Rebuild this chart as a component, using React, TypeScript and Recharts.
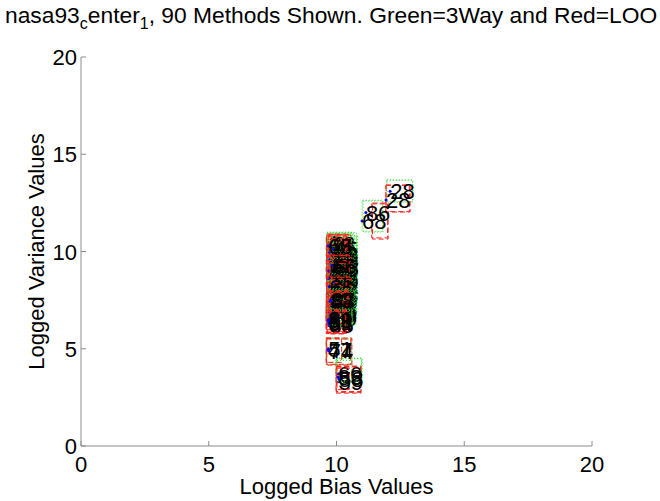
import React from "react";
import { ScatterChart, Scatter, XAxis, YAxis, ReferenceArea } from "recharts";

// Each row: [label, bias, variance,
//   LOO bias lo, LOO bias hi, LOO var lo, LOO var hi,
//   3Way bias lo, 3Way bias hi, 3Way var lo, 3Way var hi]
type MethodRow = [string, number, number, number, number, number, number, number, number, number, number];

const topMethods: MethodRow[] = [
  ["28", 12.1, 13.1, 11.94, 12.88, 12.03, 13.42, 11.98, 12.99, 12.54, 13.68],
  ["28", 11.94, 12.65, 11.93, 12.85, 12.05, 13.4, 11.96, 12.97, 12.56, 13.66],
  ["86", 11.15, 12.0, 11.41, 12.02, 10.64, 12.49, 11.04, 11.82, 11.0, 12.64],
  ["68", 11.0, 11.57, 11.38, 12.0, 10.7, 12.45, 11.0, 11.8, 11.04, 12.6],
];

const upperCluster: MethodRow[] = [
  ["1", 9.68, 10.45, 9.61, 10.36, 9.85, 10.9, 9.64, 10.58, 10.05, 11.0],
  ["2", 9.86, 10.4, 9.79, 10.55, 9.8, 10.85, 9.82, 10.78, 10.0, 10.95],
  ["3", 9.74, 10.32, 9.67, 10.42, 9.72, 10.8, 9.7, 10.64, 9.9, 10.9],
  ["4", 9.92, 10.24, 9.85, 10.6, 9.64, 10.7, 9.88, 10.82, 9.84, 10.8],
  ["5", 9.7, 10.16, 9.63, 10.38, 9.56, 10.62, 9.66, 10.6, 9.76, 10.72],
  ["6", 9.82, 10.08, 9.75, 10.5, 9.48, 10.54, 9.78, 10.72, 9.68, 10.64],
  ["7", 9.68, 10.0, 9.61, 10.36, 9.4, 10.46, 9.64, 10.58, 9.6, 10.56],
  ["8", 9.9, 9.94, 9.83, 10.58, 9.34, 10.4, 9.86, 10.8, 9.54, 10.5],
  ["9", 9.76, 9.86, 9.69, 10.44, 9.26, 10.32, 9.72, 10.66, 9.46, 10.42],
  ["10", 9.86, 9.78, 9.79, 10.54, 9.18, 10.24, 9.82, 10.76, 9.38, 10.34],
  ["11", 9.68, 9.7, 9.61, 10.36, 9.1, 10.16, 9.64, 10.58, 9.3, 10.26],
  ["12", 9.8, 9.64, 9.73, 10.48, 9.04, 10.1, 9.76, 10.7, 9.24, 10.2],
  ["13", 9.92, 9.56, 9.85, 10.6, 8.96, 10.02, 9.88, 10.82, 9.16, 10.12],
  ["14", 9.7, 9.48, 9.63, 10.38, 8.88, 9.94, 9.66, 10.6, 9.08, 10.04],
  ["15", 9.84, 9.4, 9.77, 10.52, 8.8, 9.86, 9.8, 10.74, 9.0, 9.96],
  ["16", 9.68, 9.32, 9.6, 10.34, 8.7, 9.8, 9.65, 10.56, 8.94, 9.9],
  ["17", 9.9, 9.26, 9.84, 10.56, 8.66, 9.72, 9.86, 10.8, 8.86, 9.82],
  ["18", 9.76, 9.18, 9.7, 10.46, 8.58, 9.64, 9.72, 10.68, 8.78, 9.74],
  ["19", 9.68, 9.1, 9.62, 10.36, 8.5, 9.58, 9.64, 10.58, 8.7, 9.66],
  ["20", 9.88, 9.04, 9.8, 10.56, 8.44, 9.5, 9.84, 10.78, 8.64, 9.6],
  ["21", 9.72, 8.96, 9.65, 10.4, 8.36, 9.42, 9.68, 10.62, 8.56, 9.52],
  ["22", 9.82, 8.88, 9.75, 10.5, 8.28, 9.34, 9.78, 10.72, 8.48, 9.44],
  ["23", 9.68, 8.8, 9.61, 10.36, 8.2, 9.26, 9.64, 10.58, 8.4, 9.36],
  ["24", 9.9, 8.74, 9.83, 10.58, 8.14, 9.2, 9.86, 10.8, 8.34, 9.3],
  ["25", 9.75, 8.66, 9.68, 10.43, 8.06, 9.12, 9.71, 10.65, 8.26, 9.22],
  ["26", 9.68, 8.58, 9.61, 10.36, 7.98, 9.04, 9.64, 10.58, 8.18, 9.14],
  ["27", 9.86, 8.52, 9.79, 10.54, 7.92, 8.98, 9.82, 10.76, 8.12, 9.08],
  ["29", 9.7, 8.44, 9.63, 10.38, 7.84, 8.9, 9.66, 10.6, 8.04, 9.0],
  ["30", 9.8, 8.36, 9.73, 10.48, 7.76, 8.82, 9.76, 10.7, 7.96, 8.92],
  ["31", 9.68, 8.28, 9.61, 10.36, 7.68, 8.74, 9.64, 10.58, 7.88, 8.84],
  ["32", 9.92, 8.22, 9.85, 10.6, 7.62, 8.68, 9.88, 10.82, 7.82, 8.78],
  ["33", 9.74, 8.14, 9.67, 10.42, 7.54, 8.6, 9.7, 10.64, 7.74, 8.7],
  ["34", 9.86, 8.06, 9.79, 10.54, 7.46, 8.52, 9.82, 10.76, 7.66, 8.62],
  ["35", 9.68, 7.98, 9.61, 10.36, 7.38, 8.44, 9.64, 10.58, 7.58, 8.54],
  ["36", 9.8, 7.9, 9.73, 10.48, 7.3, 8.36, 9.76, 10.7, 7.5, 8.46],
  ["37", 9.7, 7.82, 9.63, 10.38, 7.22, 8.28, 9.66, 10.6, 7.42, 8.38],
  ["38", 9.9, 7.76, 9.83, 10.58, 7.16, 8.22, 9.86, 10.8, 7.36, 8.32],
  ["40", 9.68, 7.68, 9.61, 10.36, 7.08, 8.14, 9.64, 10.58, 7.28, 8.24],
  ["41", 9.84, 7.6, 9.77, 10.52, 7.0, 8.06, 9.8, 10.74, 7.2, 8.16],
  ["42", 9.72, 7.52, 9.65, 10.4, 6.92, 7.98, 9.68, 10.62, 7.12, 8.08],
];

const upperFill: MethodRow[] = [
  ["43", 9.78, 10.38, 9.7, 10.46, 9.9, 10.88, 9.74, 10.7, 10.1, 10.98],
  ["44", 9.7, 10.22, 9.62, 10.4, 9.7, 10.76, 9.66, 10.62, 9.86, 10.86],
  ["45", 9.88, 10.12, 9.8, 10.56, 9.52, 10.66, 9.84, 10.78, 9.72, 10.76],
  ["46", 9.74, 9.96, 9.66, 10.42, 9.38, 10.5, 9.7, 10.64, 9.58, 10.6],
  ["48", 9.9, 9.82, 9.82, 10.58, 9.22, 10.36, 9.86, 10.8, 9.42, 10.46],
  ["49", 9.7, 9.6, 9.62, 10.38, 9.0, 10.14, 9.66, 10.6, 9.2, 10.24],
  ["50", 9.84, 9.52, 9.76, 10.52, 8.92, 10.06, 9.8, 10.74, 9.12, 10.16],
  ["52", 9.76, 9.36, 9.68, 10.44, 8.76, 9.9, 9.72, 10.66, 8.96, 10.0],
  ["53", 9.92, 9.14, 9.84, 10.6, 8.54, 9.68, 9.88, 10.82, 8.74, 9.78],
  ["54", 9.7, 9.0, 9.62, 10.38, 8.4, 9.54, 9.66, 10.6, 8.6, 9.64],
  ["55", 9.86, 8.84, 9.78, 10.54, 8.24, 9.38, 9.82, 10.76, 8.44, 9.48],
  ["56", 9.76, 8.7, 9.68, 10.44, 8.1, 9.24, 9.72, 10.66, 8.3, 9.34],
  ["57", 9.68, 8.62, 9.6, 10.36, 8.02, 9.16, 9.64, 10.58, 8.22, 9.26],
  ["59", 9.9, 8.4, 9.82, 10.58, 7.8, 8.94, 9.86, 10.8, 8.0, 9.04],
  ["61", 9.72, 8.2, 9.64, 10.4, 7.6, 8.74, 9.68, 10.62, 7.8, 8.84],
  ["62", 9.84, 8.02, 9.76, 10.52, 7.42, 8.56, 9.8, 10.74, 7.62, 8.66],
  ["63", 9.7, 7.86, 9.62, 10.38, 7.26, 8.4, 9.66, 10.6, 7.46, 8.5],
  ["64", 9.8, 7.7, 9.72, 10.48, 7.1, 8.24, 9.76, 10.7, 7.3, 8.34],
  ["65", 9.68, 10.3, 9.6, 10.36, 9.8, 10.84, 9.64, 10.58, 10.0, 10.94],
  ["66", 9.82, 9.28, 9.74, 10.5, 8.68, 9.82, 9.78, 10.72, 8.88, 9.92],
];

const middleCluster: MethodRow[] = [
  ["67", 9.68, 7.4, 9.6, 10.36, 6.7, 7.9, 9.64, 10.62, 6.9, 8.0],
  ["69", 9.86, 7.36, 9.78, 10.56, 6.66, 7.86, 9.82, 10.8, 6.86, 7.96],
  ["70", 9.8, 7.28, 9.72, 10.48, 6.58, 7.78, 9.76, 10.72, 6.78, 7.88],
  ["71", 9.74, 7.22, 9.66, 10.42, 6.6, 7.7, 9.7, 10.64, 6.74, 7.84],
  ["72", 9.68, 7.14, 9.6, 10.36, 6.44, 7.64, 9.64, 10.6, 6.64, 7.74],
  ["73", 9.86, 7.06, 9.78, 10.56, 6.36, 7.56, 9.82, 10.78, 6.56, 7.66],
  ["75", 9.72, 6.98, 9.64, 10.4, 6.28, 7.48, 9.68, 10.64, 6.48, 7.58],
  ["76", 9.82, 6.92, 9.74, 10.5, 6.3, 7.4, 9.78, 10.74, 6.44, 7.54],
  ["77", 9.68, 6.84, 9.6, 10.36, 6.14, 7.34, 9.64, 10.6, 6.34, 7.44],
  ["78", 9.8, 6.76, 9.72, 10.48, 6.06, 7.26, 9.76, 10.72, 6.26, 7.36],
  ["79", 9.7, 6.68, 9.62, 10.38, 5.98, 7.18, 9.66, 10.62, 6.18, 7.28],
  ["80", 9.84, 6.6, 9.76, 10.52, 5.9, 7.1, 9.8, 10.76, 6.22, 7.2],
  ["81", 9.68, 6.52, 9.6, 10.36, 5.86, 7.02, 9.64, 10.6, 6.22, 7.12],
  ["82", 9.7, 6.4, 9.62, 10.4, 5.8, 6.9, 9.66, 10.62, 6.22, 7.0],
  ["84", 9.68, 6.3, 9.6, 10.36, 5.78, 6.8, 9.64, 10.58, 6.22, 6.9],
  ["85", 9.72, 6.2, 9.64, 10.38, 5.76, 6.7, 9.68, 10.6, 6.22, 6.8],
  ["87", 9.78, 7.5, 9.7, 10.46, 6.9, 7.98, 9.74, 10.7, 7.04, 8.1],
  ["88", 9.76, 7.44, 9.68, 10.44, 6.82, 7.94, 9.72, 10.66, 6.98, 8.04],
  ["89", 9.68, 6.46, 9.6, 10.36, 5.84, 6.96, 9.64, 10.6, 6.22, 7.06],
];

const lowerMethods: MethodRow[] = [
  ["47", 9.67, 4.94, 9.6, 10.6, 4.16, 5.55, 9.6, 10.6, 4.16, 5.55],
  ["74", 9.7, 4.88, 9.62, 10.56, 4.2, 5.5, 9.62, 10.56, 4.2, 5.5],
  ["51", 9.68, 5.0, 9.6, 10.2, 4.3, 5.55, 9.6, 10.2, 4.3, 5.55],
];

const bottomMethods: MethodRow[] = [
  ["60", 10.06, 3.72, 9.98, 10.96, 2.72, 4.11, 9.98, 11.0, 3.24, 4.52],
  ["39", 10.08, 3.3, 10.0, 10.94, 2.76, 4.06, 10.0, 10.98, 3.28, 4.48],
  ["83", 10.06, 3.55, 9.99, 10.95, 2.8, 4.08, 9.99, 10.99, 3.3, 4.5],
  ["58", 10.1, 3.45, 10.02, 10.5, 2.9, 4.0, 10.02, 10.6, 3.35, 4.4],
];

const axisTicks = [0, 5, 10, 15, 20];

const allRows = [...upperCluster, ...upperFill, ...middleCluster, ...lowerMethods, ...bottomMethods, ...topMethods];

// methods are drawn in small batches (boxes, then labels) so that
// later boxes sit on top of earlier labels
const BATCH = 6;
const batches: MethodRow[][] = [];
for (let i = 0; i < allRows.length; i += BATCH) batches.push(allRows.slice(i, i + BATCH));

const FONT = '"Liberation Sans", Arial, Helvetica, sans-serif';
const AXIS_GRAY = "#8c8c8c";

const XTick = ({ x, y, payload }: any) => (
  <g>
    <line x1={x} y1={y} x2={x} y2={y - 5} stroke={AXIS_GRAY} />
    <text x={x} y={y + 26} textAnchor="middle" fontSize={22} fontFamily={FONT} fill="#000">
      {payload.value}
    </text>
  </g>
);

const YTick = ({ x, y, payload }: any) => (
  <g>
    <line x1={x} y1={y} x2={x + 5} y2={y} stroke={AXIS_GRAY} />
    <text x={x - 4} y={y + 8} textAnchor="end" fontSize={22} fontFamily={FONT} fill="#000">
      {payload.value}
    </text>
  </g>
);

// method number written to the right of its point, with the point as a small blue dot
const MethodMark = (props: any) => {
  const { cx, cy, payload } = props;
  return (
    <g>
      <circle cx={cx} cy={cy} r={1.5} fill="#0000ff" />
      <text x={cx} y={cy + 8} fontSize={22} fontFamily={FONT} fill="#000">
        {payload.label}
      </text>
    </g>
  );
};

export default function App() {
  return (
    <div style={{ position: "absolute", left: 0, top: 0, width: 660, height: 501, background: "#fff" }}>
      <div
        style={{
          position: "absolute",
          left: 5,
          top: 2,
          fontFamily: FONT,
          fontSize: 22.8,
          whiteSpace: "nowrap",
          color: "#000",
          lineHeight: "27px",
        }}
      >
        nasa93<sub style={{ fontSize: 16, verticalAlign: "-6px" }}>c</sub>enter
        <sub style={{ fontSize: 16, verticalAlign: "-6px" }}>1</sub>, 90 Methods Shown. Green=3Way and Red=LOO
      </div>
      <ScatterChart width={660} height={501} margin={{ top: 57, right: 68, bottom: 0, left: 0 }}>
        <XAxis
          type="number"
          dataKey="bias"
          domain={[0, 20]}
          ticks={axisTicks}
          interval={0}
          allowDataOverflow
          height={55}
          tickSize={0}
          tickMargin={0}
          tickLine={false}
          stroke={AXIS_GRAY}
          tick={<XTick />}
          label={{
            value: "Logged Bias Values",
            position: "insideBottom",
            offset: 7,
            fontSize: 22,
            fontFamily: FONT,
            fill: "#000",
          }}
        />
        <YAxis
          type="number"
          dataKey="variance"
          domain={[0, 20]}
          ticks={axisTicks}
          interval={0}
          allowDataOverflow
          width={81}
          tickSize={0}
          tickMargin={0}
          tickLine={false}
          stroke={AXIS_GRAY}
          tick={<YTick />}
          label={{
            value: "Logged Variance Values",
            angle: -90,
            position: "insideLeft",
            offset: 36,
            fontSize: 22,
            fontFamily: FONT,
            fill: "#000",
            style: { textAnchor: "middle" },
          }}
        />
        {batches.map((rows, b) => [
          ...rows.map((r, i) => (
            <ReferenceArea
              key={`way-${b}-${i}`}
              x1={r[7]}
              x2={r[8]}
              y1={r[9]}
              y2={r[10]}
              fill="none"
              stroke="#33dd33"
              strokeDasharray="1 2"
              ifOverflow="visible"
              zIndex={600 + b * 3}
            />
          )),
          ...rows.map((r, i) => (
            <ReferenceArea
              key={`loo-${b}-${i}`}
              x1={r[3]}
              x2={r[4]}
              y1={r[5]}
              y2={r[6]}
              fill="none"
              stroke="#ff2020"
              strokeDasharray="5 3"
              ifOverflow="visible"
              zIndex={601 + b * 3}
            />
          )),
          <Scatter
            key={`pts-${b}`}
            data={rows.map((r) => ({ label: r[0], bias: r[1], variance: r[2] }))}
            shape={<MethodMark />}
            isAnimationActive={false}
            zIndex={602 + b * 3}
          />,
        ])}
      </ScatterChart>
    </div>
  );
}
